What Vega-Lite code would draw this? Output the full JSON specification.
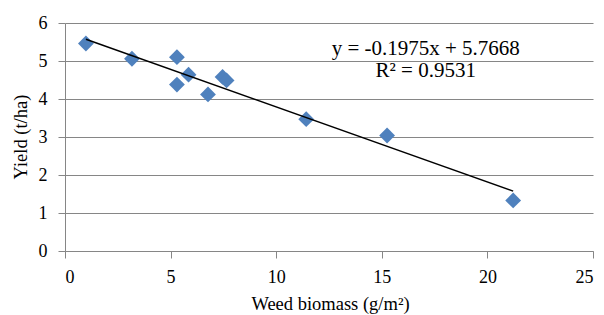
{
  "$schema": "https://vega.github.io/schema/vega-lite/v6.json",
  "width": 528,
  "height": 228,
  "autosize": {"type": "none"},
  "padding": {"left": 65, "top": 23, "right": 11, "bottom": 64},
  "background": "white",
  "config": {
    "view": {"stroke": null},
    "font": "Liberation Serif",
    "axis": {
      "labelFont": "Liberation Serif",
      "titleFont": "Liberation Serif",
      "labelFontSize": 18,
      "titleFontSize": 18.5,
      "titleFontWeight": "normal",
      "labelColor": "#000",
      "titleColor": "#000",
      "domainColor": "#868686",
      "tickColor": "#868686",
      "gridColor": "#868686",
      "gridWidth": 1,
      "domainWidth": 1,
      "tickSize": 7,
      "labelOverlap": false
    }
  },
  "datasets": {
    "pts": [
      {"biomass": 0.99, "yield": 5.46},
      {"biomass": 3.17, "yield": 5.06},
      {"biomass": 5.3, "yield": 5.1},
      {"biomass": 5.3, "yield": 4.38},
      {"biomass": 5.85, "yield": 4.64},
      {"biomass": 6.77, "yield": 4.12},
      {"biomass": 7.46, "yield": 4.58},
      {"biomass": 7.65, "yield": 4.49},
      {"biomass": 11.42, "yield": 3.47},
      {"biomass": 15.25, "yield": 3.04},
      {"biomass": 21.22, "yield": 1.33}
    ],
    "trend": [
      {"biomass": 0.99, "yield": 5.5713},
      {"biomass": 21.22, "yield": 1.5759}
    ]
  },
  "layer": [
    {
      "data": {"name": "pts"},
      "mark": {"type": "point", "shape": "diamond", "filled": true, "size": 250, "color": "#4F81BD", "opacity": 1},
      "encoding": {
        "x": {
          "field": "biomass", "type": "quantitative",
          "scale": {"domain": [0, 25], "nice": false, "zero": true},
          "axis": {"values": [0, 5, 10, 15, 20, 25], "grid": false, "title": "Weed biomass (g/m²)", "labelPadding": 10, "titleBaseline": "alphabetic", "titleY": 58.5, "titleX": 265}
        },
        "y": {
          "field": "yield", "type": "quantitative",
          "scale": {"domain": [0, 6], "nice": false},
          "axis": {"values": [0, 1, 2, 3, 4, 5, 6], "grid": true, "title": "Yield (t/ha)", "labelPadding": 11, "titleBaseline": "alphabetic", "titleX": -38.5, "titleY": 113.5}
        }
      }
    },
    {
      "data": {"name": "trend"},
      "mark": {"type": "line", "color": "#000", "strokeWidth": 1.5},
      "encoding": {
        "x": {
          "field": "biomass", "type": "quantitative",
          "axis": {"values": [0, 5, 10, 15, 20, 25], "grid": false, "title": "Weed biomass (g/m²)", "labelPadding": 10, "titleBaseline": "alphabetic", "titleY": 58.5, "titleX": 265}
        },
        "y": {
          "field": "yield", "type": "quantitative",
          "axis": {"values": [0, 1, 2, 3, 4, 5, 6], "grid": true, "title": "Yield (t/ha)", "labelPadding": 11, "titleBaseline": "alphabetic", "titleX": -38.5, "titleY": 113.5}
        }
      }
    },
    {
      "data": {"values": [{"label": "y = -0.1975x + 5.7668"}]},
      "mark": {"type": "text", "fontSize": 21, "align": "center", "baseline": "alphabetic", "font": "Liberation Serif", "color": "#000"},
      "encoding": {
        "x": {
          "datum": 17.08, "type": "quantitative",
          "axis": {"values": [0, 5, 10, 15, 20, 25], "grid": false, "title": "Weed biomass (g/m²)", "labelPadding": 10, "titleBaseline": "alphabetic", "titleY": 58.5, "titleX": 265}
        },
        "y": {
          "datum": 5.17, "type": "quantitative",
          "axis": {"values": [0, 1, 2, 3, 4, 5, 6], "grid": true, "title": "Yield (t/ha)", "labelPadding": 11, "titleBaseline": "alphabetic", "titleX": -38.5, "titleY": 113.5}
        },
        "text": {"field": "label"}
      }
    },
    {
      "data": {"values": [{"label": "R² = 0.9531"}]},
      "mark": {"type": "text", "fontSize": 21, "align": "center", "baseline": "alphabetic", "font": "Liberation Serif", "color": "#000"},
      "encoding": {
        "x": {
          "datum": 17.08, "type": "quantitative",
          "axis": {"values": [0, 5, 10, 15, 20, 25], "grid": false, "title": "Weed biomass (g/m²)", "labelPadding": 10, "titleBaseline": "alphabetic", "titleY": 58.5, "titleX": 265}
        },
        "y": {
          "datum": 4.59, "type": "quantitative",
          "axis": {"values": [0, 1, 2, 3, 4, 5, 6], "grid": true, "title": "Yield (t/ha)", "labelPadding": 11, "titleBaseline": "alphabetic", "titleX": -38.5, "titleY": 113.5}
        },
        "text": {"field": "label"}
      }
    }
  ]
}
